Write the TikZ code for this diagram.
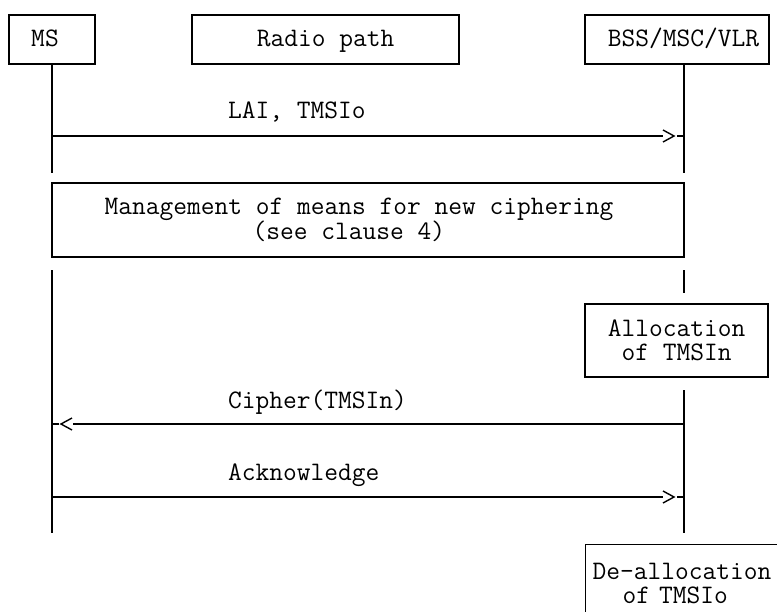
\documentclass[tikz,border=0pt]{standalone}
\usetikzlibrary{calc}
\tikzset{
  txt/.style={font=\fontsize{26.7bp}{24.5bp}\ttfamily\selectfont},
  box/.style={draw, line width=1.4bp, inner sep=0pt, txt, text height=15bp, text depth=0bp},
  mbox/.style={draw, line width=1.4bp, inner sep=0pt, txt},
  lbl/.style={txt, anchor=base west, inner sep=0pt},
  life/.style={line width=1.4bp},
  msg/.style={line width=1.4bp, line cap=butt},
}
\begin{document}
\begin{tikzpicture}[x=1bp,y=-1bp]
\useasboundingbox (0,0) rectangle (777,612);
\clip (0,0) rectangle (777,612);
% header boxes
\node[box, minimum width=86bp, minimum height=49bp] (ms) at (52,39.5) {MS\hspace*{14bp}};
\node[box, minimum width=267bp, minimum height=49bp] (radio) at (325.5,39.5) {Radio path};
\node[box, minimum width=184bp, minimum height=49bp] (bss) at (677,39.5) {\hspace*{13bp}BSS/MSC/VLR};
% lifeline coordinates
\coordinate (msA) at (52,173);
\coordinate (msB) at (52,270);
\coordinate (msE) at (52,533);
\coordinate (bsA) at (684,173);
\coordinate (bsB) at (684,270);
\coordinate (bsC) at (684,293);
\coordinate (bsD) at (684,390);
\coordinate (bsE) at (684,533);
% management box
\node[mbox, minimum width=632bp, minimum height=74bp, align=left] (mgmt) at (368,220)
  {Management of means for new ciphering\hspace*{18bp}\\\hspace*{148bp}(see clause 4)};
% allocation box
\node[mbox, minimum width=183bp, minimum height=73bp, align=center] (alloc) at (676.5,340.5)
  {Allocation\\of TMSIn};
% de-allocation box (cut by the picture edge)
\node[mbox, anchor=north west, minimum width=220bp, minimum height=77bp, align=left,
      text width=206bp, inner xsep=7bp, inner ysep=9bp, text height=17bp] (dealloc) at (585,544)
  {De-allocation\\\hspace*{30bp}of TMSIo};
% lifelines
\draw[life] (ms.south) -- (msA);
\draw[life] (msB) -- (msE);
\draw[life] (bss.south -| bsA) -- (bsA);
\draw[life] (bsB) -- (bsC);
\draw[life] (bsD) -- (bsE);
% message 1: LAI, TMSIo
\coordinate (m1a) at (52,136);
\coordinate (m1b) at (684,136);
\node[lbl] (l1) at (228,119) {LAI, TMSIo};
\draw[msg] (m1a) -- ($(m1b)+(-21,0)$);
\draw[msg] ($(m1b)+(-21,-6)$) -- ($(m1b)+(-10,0)$) -- ($(m1b)+(-21,6)$);
\draw[msg] ($(m1b)+(-7,0)$) -- (m1b);
% message 2: Cipher(TMSIn)
\coordinate (m2a) at (684,424);
\coordinate (m2b) at (52,424);
\node[lbl] (l2) at (228,408) {Cipher(TMSIn)};
\draw[msg] (m2a) -- ($(m2b)+(21,0)$);
\draw[msg] ($(m2b)+(20,-6)$) -- ($(m2b)+(9,0)$) -- ($(m2b)+(20,6)$);
\draw[msg] ($(m2b)+(7,0)$) -- (m2b);
% message 3: Acknowledge
\coordinate (m3a) at (52,497);
\coordinate (m3b) at (684,497);
\node[lbl] (l3) at (228,480) {Acknowledge};
\draw[msg] (m3a) -- ($(m3b)+(-21,0)$);
\draw[msg] ($(m3b)+(-21,-6)$) -- ($(m3b)+(-10,0)$) -- ($(m3b)+(-21,6)$);
\draw[msg] ($(m3b)+(-7,0)$) -- (m3b);
\end{tikzpicture}
\end{document}
